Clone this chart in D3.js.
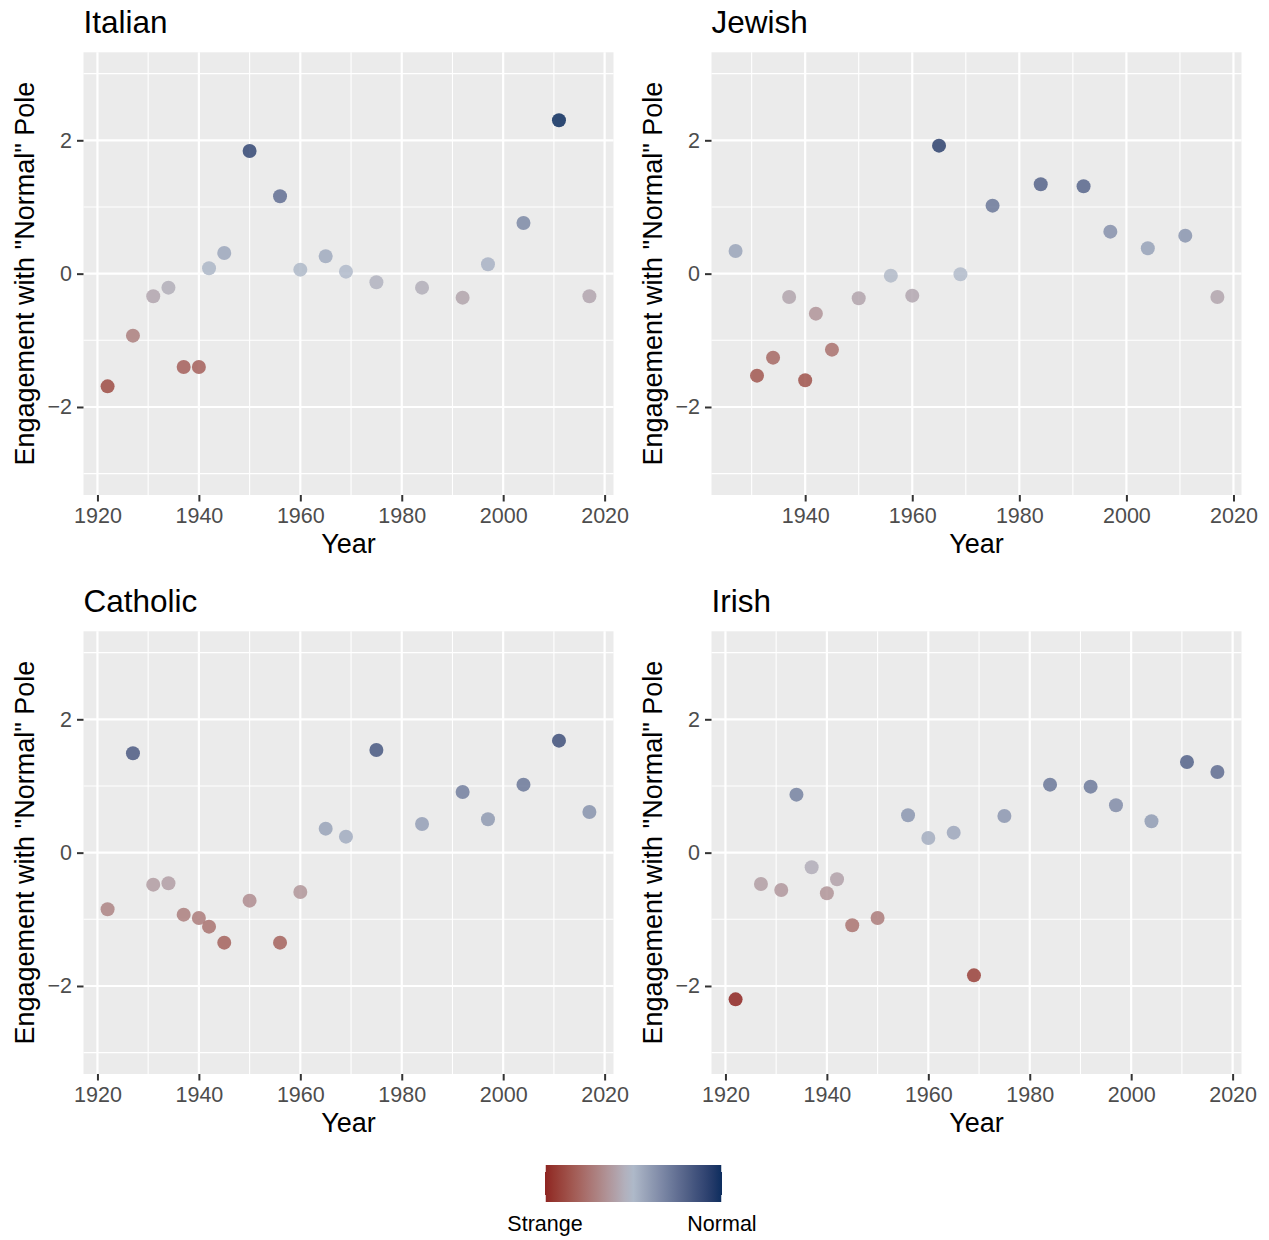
<!DOCTYPE html>
<html>
<head>
<meta charset="utf-8">
<script src="https://cdn.jsdelivr.net/npm/d3@7"></script>
<style>
  body { margin: 0; background: #fff; }
  svg { display: block; }
  text { font-family: "Liberation Sans", Arial, sans-serif; }
</style>
</head>
<body>
<div id="chart"></div>
<script>
// survey years
const years = [1922, 1927, 1931, 1934, 1937, 1940, 1942, 1945, 1950, 1956, 1960, 1965, 1969, 1975, 1984, 1992, 1997, 2004, 2011, 2017];
const yearsJewish = [1927, 1931, 1934, 1937, 1940, 1942, 1945, 1950, 1956, 1960, 1965, 1969, 1975, 1984, 1992, 1997, 2004, 2011, 2017];

// engagement with "normal" pole
const italian = [-1.69, -0.93, -0.34, -0.21, -1.40, -1.40, 0.08, 0.31, 1.84, 1.16, 0.06, 0.26, 0.03, -0.13, -0.21, -0.36, 0.14, 0.76, 2.30, -0.34];
const jewish = [0.34, -1.53, -1.26, -0.35, -1.60, -0.60, -1.14, -0.37, -0.03, -0.33, 1.92, -0.01, 1.02, 1.34, 1.31, 0.63, 0.38, 0.57, -0.35];
const catholic = [-0.85, 1.49, -0.48, -0.46, -0.93, -0.98, -1.11, -1.35, -0.72, -1.35, -0.59, 0.36, 0.24, 1.54, 0.43, 0.91, 0.50, 1.02, 1.68, 0.61];
const irish = [-2.20, -0.47, -0.56, 0.87, -0.22, -0.61, -0.40, -1.09, -0.98, 0.56, 0.22, 0.30, -1.84, 0.55, 1.02, 0.99, 0.71, 0.47, 1.36, 1.21];

const panelTitles = ["Italian", "Jewish", "Catholic", "Irish"];
const xTicks = [1920, 1940, 1960, 1980, 2000, 2020];
const xMinor = [1910, 1930, 1950, 1970, 1990, 2010];
const yTicks = [-2, 0, 2];
const yMinor = [-3, -1, 1, 3];
const legendLabels = ["Strange", "Normal"];

var panels = [
    { title: panelTitles[0], years: years, values: italian },
    { title: panelTitles[1], years: yearsJewish, values: jewish },
    { title: panelTitles[2], years: years, values: catholic },
    { title: panelTitles[3], years: years, values: irish }
];

var width = 1269, height = 1240;
var colX = [83.5, 711.5], rowY = [52.3, 631.3];
var pw = 530, ph = 442.7;

var allValues = italian.concat(jewish, catholic, irish);
var vmin = d3.min(allValues), vmax = d3.max(allValues);
var vabs = d3.max([Math.abs(vmin), Math.abs(vmax)]);

var color = d3.scaleLinear()
    .domain([-vabs, 0, vabs])
    .range(["#8b1a1a", "#b2bccb", "#0c2d5e"])
    .interpolate(d3.interpolateLab);

var svg = d3.select("#chart")
    .append("svg")
    .attr("width", width)
    .attr("height", height);

var y = d3.scaleLinear().domain([-3.32, 3.32]).range([ph, 0]);

panels.forEach(function (p, i) {
    var g = svg.append("g")
        .attr("transform", "translate(" + colX[i % 2] + "," + rowY[Math.floor(i / 2)] + ")");

    var ext = d3.extent(p.years);
    var pad = (ext[1] - ext[0]) * 0.05;
    var x = d3.scaleLinear().domain([ext[0] - pad, ext[1] + pad]).range([0, pw]);
    var inX = (d) => d >= x.domain()[0] && d <= x.domain()[1];

    g.append("rect").attr("width", pw).attr("height", ph).attr("fill", "#ebebeb");

    // minor grid
    g.selectAll(".xmin").data(xMinor.filter(inX)).enter().append("line")
        .attr("x1", (d) => x(d)).attr("x2", (d) => x(d)).attr("y1", 0).attr("y2", ph)
        .attr("stroke", "#fff").attr("stroke-width", 1.1);
    g.selectAll(".ymin").data(yMinor).enter().append("line")
        .attr("y1", (d) => y(d)).attr("y2", (d) => y(d)).attr("x1", 0).attr("x2", pw)
        .attr("stroke", "#fff").attr("stroke-width", 1.1);
    // major grid
    g.selectAll(".xmaj").data(xTicks.filter(inX)).enter().append("line")
        .attr("x1", (d) => x(d)).attr("x2", (d) => x(d)).attr("y1", 0).attr("y2", ph)
        .attr("stroke", "#fff").attr("stroke-width", 2.2);
    g.selectAll(".ymaj").data(yTicks).enter().append("line")
        .attr("y1", (d) => y(d)).attr("y2", (d) => y(d)).attr("x1", 0).attr("x2", pw)
        .attr("stroke", "#fff").attr("stroke-width", 2.2);

    // axes
    var xAxis = g.append("g")
        .attr("transform", "translate(0," + ph + ")")
        .call(d3.axisBottom(x).tickValues(xTicks.filter(inX)).tickFormat(d3.format("d")).tickSize(6.5).tickPadding(6));
    var yAxis = g.append("g")
        .call(d3.axisLeft(y).tickValues(yTicks).tickFormat((d) => d < 0 ? "\u2212" + Math.abs(d) : d).tickSize(6.5).tickPadding(5));
    [xAxis, yAxis].forEach(function (a) {
        a.select(".domain").remove();
        a.selectAll("line").attr("stroke", "#333333").attr("stroke-width", 2);
        a.selectAll("text").attr("fill", "#4d4d4d").style("font-size", "21.5px")
            .style("font-family", "'Liberation Sans', Arial, sans-serif");
    });

    // points
    g.selectAll("circle")
        .data(p.years.map((d, j) => ({ year: d, value: p.values[j] })))
        .enter()
        .append("circle")
        .attr("cx", (d) => x(d.year))
        .attr("cy", (d) => y(d.value))
        .attr("r", 7)
        .attr("fill", (d) => color(d.value))
        .attr("fill-opacity", 0.85);

    g.append("text")
        .attr("x", 0).attr("y", -19.3)
        .style("font-size", "31.5px")
        .text(p.title);
    g.append("text")
        .attr("x", pw / 2).attr("y", ph + 58.5)
        .attr("text-anchor", "middle")
        .style("font-size", "27px")
        .text("Year");
    g.append("text")
        .attr("transform", "translate(-50," + (ph / 2) + ")rotate(-90)")
        .attr("text-anchor", "middle")
        .style("font-size", "27px")
        .text("Engagement with \"Normal\" Pole");
});

// colour bar legend
var lx = d3.scaleLinear().domain([vmin, vmax]).range([545, 722]);
var grad = svg.append("defs").append("linearGradient")
    .attr("id", "cbar").attr("x1", "0%").attr("x2", "100%");
d3.range(0, 1.0001, 0.05).forEach(function (t) {
    grad.append("stop")
        .attr("offset", (t * 100) + "%")
        .attr("stop-color", color(vmin + t * (vmax - vmin)));
});
svg.append("rect")
    .attr("x", lx(vmin)).attr("y", 1165)
    .attr("width", lx(vmax) - lx(vmin)).attr("height", 37)
    .attr("fill", "url(#cbar)");
[vmin, vmax].forEach(function (v) {
    svg.append("line").attr("x1", lx(v)).attr("x2", lx(v)).attr("y1", 1165).attr("y2", 1172)
        .attr("stroke", "#fff").attr("stroke-width", 1.5);
    svg.append("line").attr("x1", lx(v)).attr("x2", lx(v)).attr("y1", 1195).attr("y2", 1202)
        .attr("stroke", "#fff").attr("stroke-width", 1.5);
});
svg.selectAll(".leglab")
    .data(legendLabels)
    .enter()
    .append("text")
    .attr("x", (d, i) => lx([vmin, vmax][i]))
    .attr("y", 1231)
    .attr("text-anchor", "middle")
    .style("font-size", "21.5px")
    .text((d) => d);
</script>
</body>
</html>
